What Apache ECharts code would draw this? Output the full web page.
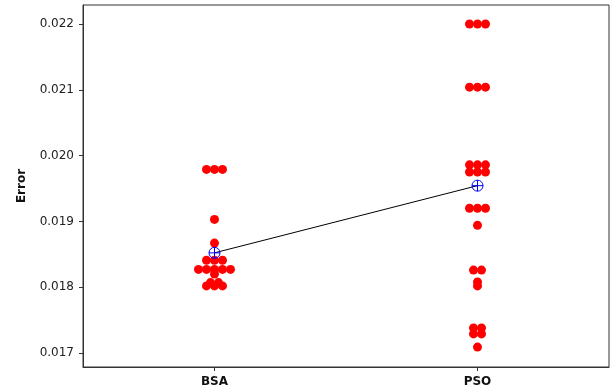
<!DOCTYPE html>
<html>
<head>
<meta charset="utf-8">
<script src="https://cdn.jsdelivr.net/npm/echarts@6/dist/echarts.min.js"></script>
<style>
html,body{margin:0;padding:0;background:#fff;}
#chart{width:612px;height:391px;}
</style>
</head>
<body>
<div id="chart"></div>
<script>
// ---- data ----
const categories = ['BSA', 'PSO'];
const bsaValues = [
  0.01979, 0.01979, 0.01979,
  0.01903,
  0.01867,
  0.01841, 0.01841, 0.01841,
  0.01827, 0.01827, 0.01827, 0.01827, 0.01827,
  0.01820,
  0.01807, 0.01807,
  0.01802, 0.01802, 0.01802
];
const psoValues = [
  0.02200, 0.02200, 0.02200,
  0.02104, 0.02104, 0.02104,
  0.01986, 0.01986, 0.01986,
  0.01975, 0.01975, 0.01975,
  0.01920, 0.01920, 0.01920,
  0.01894,
  0.01826, 0.01826,
  0.01808,
  0.01802,
  0.01738, 0.01738,
  0.01729, 0.01729,
  0.01709
];
const meanValues = [0.018522, 0.019543];
const yTicks = [0.017, 0.018, 0.019, 0.020, 0.021, 0.022];

// ---- build dot data: equal values are spread side by side ----
const DOT_GAP = 8;
function buildDots(values, ci) {
  const counts = new Map();
  values.forEach(v => counts.set(v, (counts.get(v) || 0) + 1));
  const out = [];
  counts.forEach((n, v) => {
    for (let k = 0; k < n; k++) {
      out.push({ value: [ci, v], symbolOffset: [(k - (n - 1) / 2) * DOT_GAP, 0] });
    }
  });
  return out;
}
const dots = buildDots(bsaValues, 0).concat(buildDots(psoValues, 1));

const chart = echarts.init(document.getElementById('chart'), null, { renderer: 'canvas' });
const FONT = 'DejaVu Sans';
chart.setOption({
  animation: false,
  backgroundColor: '#ffffff',
  grid: {
    left: 83, right: 3, top: 5, bottom: 24,
    show: true, borderColor: '#333', borderWidth: 1, backgroundColor: '#fff'
  },
  xAxis: {
    type: 'category',
    data: categories,
    boundaryGap: true,
    axisLine: { show: true, lineStyle: { color: '#333', width: 1 } },
    axisTick: { show: true, alignWithLabel: true, length: 4, lineStyle: { color: '#333' } },
    axisLabel: { color: '#111', fontFamily: FONT, fontSize: 12, fontWeight: 'bold', margin: 9 },
    splitLine: { show: false }
  },
  yAxis: {
    type: 'value',
    min: 0.016787,
    max: 0.022289,
    name: 'Error',
    nameLocation: 'middle',
    nameGap: 55,
    nameTextStyle: { color: '#111', fontFamily: FONT, fontSize: 12, fontWeight: 'bold' },
    axisLine: { show: true, lineStyle: { color: '#333', width: 1 } },
    axisTick: { show: true, length: 4, customValues: yTicks, lineStyle: { color: '#333' } },
    axisLabel: {
      color: '#222', fontFamily: FONT, fontSize: 12, margin: 9,
      customValues: yTicks,
      formatter: v => v.toFixed(3)
    },
    splitLine: { show: false }
  },
  series: [
    {
      type: 'scatter',
      data: dots,
      symbol: 'circle',
      symbolSize: 9,
      itemStyle: { color: '#ff0000', opacity: 1 },
      z: 2
    },
    {
      type: 'line',
      data: meanValues,
      symbol: 'path://M0,-5A5,5,0,1,1,0,5A5,5,0,1,1,0,-5ZM-5,0L5,0M0,-5L0,5',
      symbolSize: 11,
      showSymbol: true,
      lineStyle: { color: '#000', width: 1 },
      itemStyle: { color: 'rgba(0,0,0,0)', borderColor: '#0000ff', borderWidth: 1 },
      z: 3
    }
  ]
});
</script>
</body>
</html>
